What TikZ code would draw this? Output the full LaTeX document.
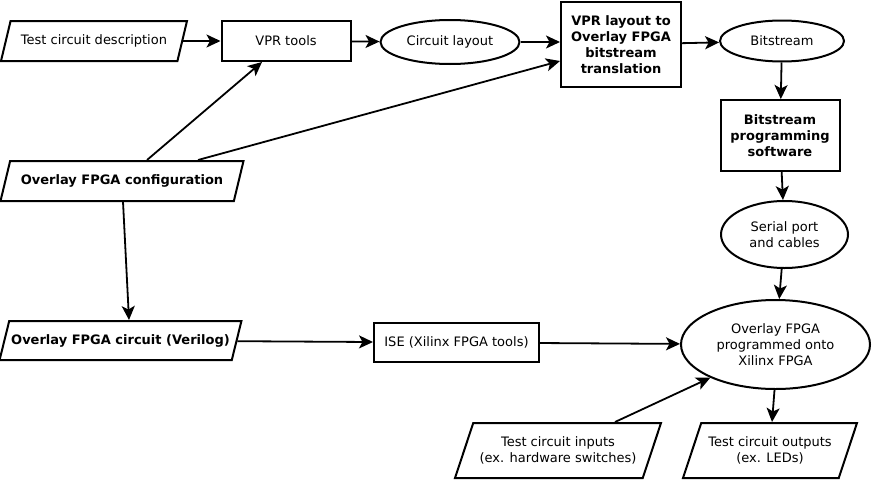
\documentclass[tikz,border=0pt]{standalone}
\usepackage{fontspec}
\setmainfont{DejaVu Sans}
\usetikzlibrary{arrows.meta,shapes.geometric,calc}
\definecolor{LineBlack}{HTML}{000000}
\tikzset{
  base/.style={draw=LineBlack, line width=2pt, fill=white, align=center, inner sep=2pt},
  procbox/.style={base, rectangle},
  databox/.style={base, ellipse},
  iobox/.style={base, trapezium, trapezium left angle=60, trapezium right angle=120,
    trapezium stretches body},
  boldtext/.style={font=\fontsize{13}{16}\selectfont\bfseries},
  flow/.style={-{Stealth[length=14pt, width=13pt, inset=3.5pt]}, line width=1.8pt, LineBlack}
}
\begin{document}
\begin{tikzpicture}[x=1pt, y=-1pt, font=\fontsize{13}{16}\selectfont]
  \useasboundingbox (0,0) rectangle (874,479);

  % top row
  \node[iobox, minimum width=186pt, minimum height=40pt] (desc) at (94,41) {Test circuit description};
  \node[procbox, minimum width=129pt, minimum height=40pt] (vpr) at (286,41) {VPR tools};
  \node[databox, minimum width=139pt, minimum height=44pt] (layout) at (450,42) {Circuit layout};
  \node[procbox, boldtext, minimum width=120pt, minimum height=85pt] (trans) at (621,44.5)
    {VPR layout to\\Overlay FPGA\\bitstream\\translation};
  \node[databox, minimum width=124pt, minimum height=41pt] (bits) at (782,41) {Bitstream};

  % right column
  \node[procbox, boldtext, minimum width=119pt, minimum height=71pt] (prog) at (780,135.5)
    {Bitstream\\programming\\software};
  \node[databox, minimum width=127pt, minimum height=67pt] (serial) at (784.5,234.5) {Serial port\\and cables};
  \node[databox, minimum width=189pt, minimum height=89pt] (fpga) at (775.5,344.5)
    {Overlay FPGA\\programmed onto\\Xilinx FPGA};

  % left column
  \node[iobox, boldtext, minimum width=243pt, minimum height=40pt] (config) at (122,181)
    {Overlay FPGA configuration};
  \node[iobox, boldtext, minimum width=240pt, minimum height=39pt] (verilog) at (120.5,340.5)
    {Overlay FPGA circuit (Verilog)};
  \node[procbox, minimum width=165pt, minimum height=39pt] (ise) at (456.5,342.5) {ISE (Xilinx FPGA tools)};

  % bottom row
  \node[iobox, minimum width=206pt, minimum height=55pt] (inputs) at (558,450.5)
    {Test circuit inputs\\(ex. hardware switches)};
  \node[iobox, minimum width=174pt, minimum height=55pt] (outputs) at (770,450.5)
    {Test circuit outputs\\(ex. LEDs)};

  \draw[flow] (desc) -- (vpr);
  \draw[flow] (vpr) -- (layout);
  \draw[flow] (layout) -- (trans.west |- layout);
  \draw[flow] (trans) -- (bits);
  \draw[flow] (bits) -- (prog);
  \draw[flow] (prog) -- (serial);
  \draw[flow] (serial) -- (fpga);
  \draw[flow] ([xshift=25pt]config.north) -- ([xshift=-24pt]vpr.south);
  \draw[flow] ([xshift=76pt]config.north) -- ([yshift=-16.5pt]trans.west);
  \draw[flow] ([xshift=1pt]config.south) -- ([xshift=8.5pt]verilog.north);
  \draw[flow] (verilog) -- (ise);
  \draw[flow] (ise) -- (fpga);
  \draw[flow] ([xshift=57pt]inputs.north) -- (fpga.207);
  \draw[flow] ([xshift=-1pt]fpga.south) -- ([xshift=2pt]outputs.north);
\end{tikzpicture}
\end{document}
